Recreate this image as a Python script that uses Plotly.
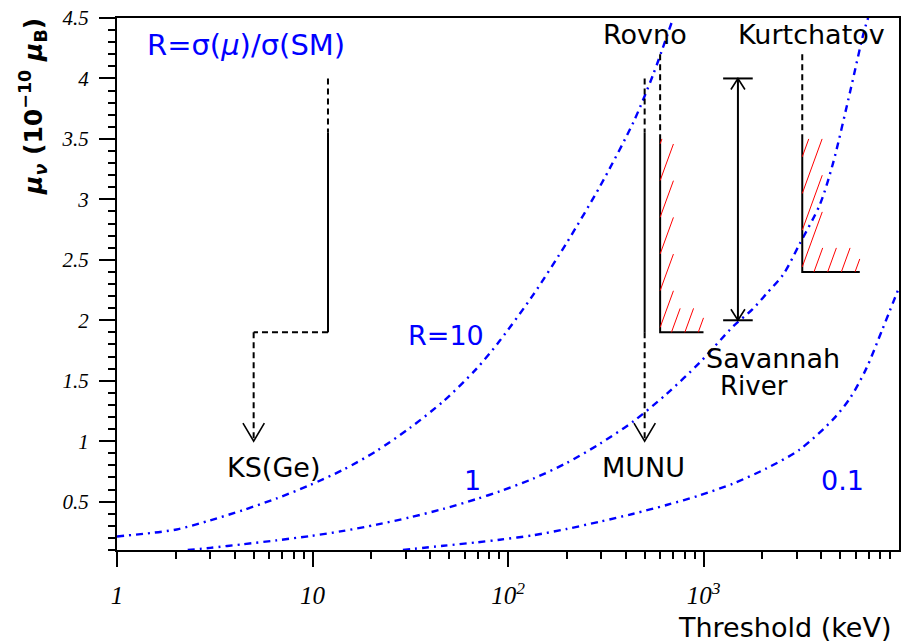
import numpy as np
import plotly.graph_objects as go

# ---------------- data ----------------
# iso-R curves: threshold T (keV) vs magnetic moment (1e-10 mu_B)
r10_T = [1, 2.02, 2.99, 4.42, 6.56, 9.7, 14.4, 21.3, 31.5, 46.7, 69.1, 90.7, 134.5, 199.5, 296, 438.5, 552, 700]
r10_mu = [0.212, 0.27, 0.345, 0.43, 0.527, 0.637, 0.765, 0.92, 1.11, 1.33, 1.6, 1.83, 2.21, 2.64, 3.11, 3.64, 4.03, 4.5]

r1_T = [2.3, 3, 4.42, 6.56, 9.7, 14.4, 21.3, 31.5, 46.7, 69.1, 90.7, 134.5, 199.5, 296, 438.5, 647, 956, 1420, 1778, 2100, 2560, 3100, 3945, 4600, 5640, 6600, 6950]
r1_mu = [0.1, 0.118, 0.148, 0.18, 0.215, 0.258, 0.31, 0.37, 0.44, 0.522, 0.585, 0.69, 0.82, 0.98, 1.165, 1.39, 1.65, 1.95, 2.09, 2.22, 2.38, 2.63, 2.96, 3.3, 3.9, 4.38, 4.5]

r01_T = [29, 46.7, 69.1, 90.7, 134.5, 199.5, 296, 438.5, 647, 956, 1420, 2100, 3100, 4600, 5640, 6800, 8200, 10000]
r01_mu = [0.1, 0.135, 0.163, 0.185, 0.222, 0.274, 0.335, 0.40, 0.472, 0.552, 0.65, 0.775, 0.93, 1.18, 1.36, 1.6, 1.92, 2.27]

# experiments: [threshold, dashed top, solid top, solid bottom]
ks_limit = [12, 4.0, 3.55, 1.9]
ks_arrow = [5, 1.0]            # projected threshold, arrow tip
munu_limit = [500, 4.0, 3.55, 1.9]
munu_arrow = [500, 1.0]
rovno_limit = [600, 4.2, 3.5, 1.9]
rovno_end = 1000
kurt_limit = [3200, 4.2, 3.5, 2.4]
kurt_end = 6300
savannah = [1500, 2.0, 4.0]    # threshold, lower, upper

# axes
x_tickvals = [1, 10, 100, 1000]
x_ticktext = ["1", "10", "10<sup>2</sup>", "10<sup>3</sup>"]
y_tickvals = [0.5, 1, 1.5, 2, 2.5, 3, 3.5, 4, 4.5]
y_ticktext = ["0.5", "1", "1.5", "2", "2.5", "3", "3.5", "4", "4.5"]

# ---------------- layout geometry ----------------
W, H = 901, 642
ML, MR, MT, MB = 117, 2, 18, 92
XR = [0, 4]          # log10 range
YR = [0.1, 4.5]
PW, PH = W - ML - MR, H - MT - MB
PX_DEC = PW / (XR[1] - XR[0])
PX_UNIT = PH / (YR[1] - YR[0])


def off(x, y, dxp, dyp):
    """shift a data point by a pixel offset (dyp positive = up)"""
    return 10 ** (np.log10(x) + dxp / PX_DEC), y + dyp / PX_UNIT


fig = go.Figure()
BLUE = "#0000ff"


def line(xs, ys, color="black", width=2, dash="solid"):
    fig.add_trace(go.Scatter(x=xs, y=ys, mode="lines", showlegend=False, hoverinfo="skip",
                             line=dict(color=color, width=width, dash=dash)))


DASH = "6px,4px"

# iso-R curves
for T, mu in [(r10_T, r10_mu), (r1_T, r1_mu), (r01_T, r01_mu)]:
    fig.add_trace(go.Scatter(x=T, y=mu, mode="lines", showlegend=False, hoverinfo="skip",
                             line=dict(color=BLUE, width=2.4, dash="7px,5px,2px,5px",
                                       shape="spline", smoothing=0.8)))


def varrow(x, tip, w=10.7, h=18):
    lx, ly = off(x, tip, -w, h)
    rx, ry = off(x, tip, w, h)
    line([lx, x, rx], [ly, tip, ry], width=1.6)


def uparrow(x, tip, w=7, h=11):
    lx, ly = off(x, tip, -w, -h)
    rx, ry = off(x, tip, w, -h)
    line([lx, x, rx], [ly, tip, ry], width=1.6)


# KS(Ge)
x0, top, stop, sbot = ks_limit
line([x0, x0], [top, stop], dash=DASH)
line([x0, x0], [stop, sbot])
line([x0, ks_arrow[0]], [sbot, sbot], dash=DASH)
line([ks_arrow[0], ks_arrow[0]], [sbot, ks_arrow[1]], dash=DASH)
varrow(ks_arrow[0], ks_arrow[1])

# MUNU
x0, top, stop, sbot = munu_limit
line([x0, x0], [top, stop], dash=DASH)
line([x0, x0], [stop, sbot])
line([munu_arrow[0], munu_arrow[0]], [sbot, munu_arrow[1]], dash=DASH)
varrow(munu_arrow[0], munu_arrow[1])


# hatched limits (Rovno, Kurtchatov)
def hatched(limit, xend, vband, hband=24, slope=2.75, vstep=36.7, hstep=13.4, v0=5, h0=11.3):
    x0, top, stop, sbot = limit
    line([x0, x0], [top, stop], dash=DASH)
    line([x0, x0, xend], [stop, sbot, sbot])
    hx, hy = [], []
    total_h = (stop - sbot) * PX_UNIT
    s = v0
    while s < total_h:
        dy = vband * slope
        dx = vband
        if s + dy > total_h:
            dy = total_h - s
            dx = dy / slope
        ax, ay = off(x0, sbot, 0, s)
        bx, by = off(x0, sbot, dx, s + dy)
        hx += [ax, bx, None]
        hy += [ay, by, None]
        s += vstep
    total_w = (np.log10(xend) - np.log10(x0)) * PX_DEC
    s = h0
    while s < total_w:
        dx = hband / slope
        dy = hband
        if s + dx > total_w:
            dx = total_w - s
            dy = dx * slope
        ax, ay = off(x0, sbot, s, 0)
        bx, by = off(x0, sbot, s + dx, dy)
        hx += [ax, bx, None]
        hy += [ay, by, None]
        s += hstep
    line(hx, hy, color="red", width=1)


hatched(rovno_limit, rovno_end, vband=13.3)
hatched(kurt_limit, kurt_end, vband=20, h0=11.7, hstep=13.7)

# Savannah River double arrow
sx, slo, shi = savannah
line([sx, sx], [slo, shi])
for yv in (slo, shi):
    ax, _ = off(sx, yv, -14.8, 0)
    bx, _ = off(sx, yv, 14.8, 0)
    line([ax, bx], [yv, yv])
uparrow(sx, shi)
uparrow(sx, slo, h=-11)

# ---------------- texts ----------------
TF = dict(family="DejaVu Sans", size=27, color="black")
BF = dict(family="DejaVu Sans", size=27, color=BLUE)
BF2 = dict(family="DejaVu Sans", size=29, color=BLUE)
labels = [
    ("R=σ(<i>μ</i>)/σ(SM)", 246, 45, BF2),
    ("R=10", 446, 335, BF),
    ("1", 472, 480, BF),
    ("0.1", 842, 480, BF),
    ("KS(Ge)", 273, 467, TF),
    ("MUNU", 643, 467, TF),
    ("Rovno", 645, 34, TF),
    ("Kurtchatov", 811, 34, TF),
    ("Savannah", 773, 358, TF),
    ("River", 754, 386, dict(TF, size=26)),
]
ann = []
for txt, px, py, f in labels:
    ann.append(dict(text=txt, x=(px - ML) / PW, y=(MT + PH - py) / PH, xref="paper", yref="paper",
                    xanchor="center", yanchor="middle", showarrow=False, font=f))

ann.append(dict(text="Threshold (keV)", x=(893 - ML) / PW, y=(MT + PH - 627) / PH, xref="paper", yref="paper",
                xanchor="right", yanchor="middle", showarrow=False,
                font=dict(family="DejaVu Sans", size=27, color="black")))
ann.append(dict(text="<i>μ</i><sub><i>ν</i></sub> (10<sup>−10</sup> <i>μ</i><sub>B</sub>)",
                x=(33 - ML) / PW, y=(MT + PH - 107) / PH, xref="paper", yref="paper",
                xanchor="center", yanchor="middle", showarrow=False, textangle=-90,
                font=dict(family="DejaVu Sans", size=25, color="black", weight="bold")))

minor_x = [m * 10 ** d for d in range(0, 4) for m in range(2, 10)]

fig.update_layout(
    width=W, height=H, margin=dict(l=ML, r=MR, t=MT, b=MB, autoexpand=False),
    plot_bgcolor="white", paper_bgcolor="white",
    annotations=ann, showlegend=False,
    xaxis=dict(type="log", range=XR, showgrid=False, zeroline=False,
               showline=True, linewidth=2, linecolor="black", mirror=True,
               ticks="outside", ticklen=15, tickwidth=2, tickcolor="black",
               tickmode="array", tickvals=x_tickvals, ticktext=x_ticktext,
               tickfont=dict(family="Liberation Serif", size=25, color="black", style="italic"),
               ticklabelstandoff=7,
               minor=dict(ticks="outside", ticklen=7, tickwidth=2, tickcolor="black",
                          tickmode="array", tickvals=minor_x, showgrid=False)),
    yaxis=dict(range=YR, showgrid=False, zeroline=False,
               showline=True, linewidth=2, linecolor="black", mirror=True,
               ticks="outside", ticklen=16, tickwidth=2, tickcolor="black",
               tickmode="array", tickvals=y_tickvals, ticktext=y_ticktext,
               tickfont=dict(family="Liberation Serif", size=21, color="black", style="italic"),
               ticklabelstandoff=6,
               minor=dict(ticks="outside", ticklen=7, tickwidth=2, tickcolor="black",
                          dtick=0.1, tick0=0, showgrid=False)),
)

fig.write_html("out.html", config={"displayModeBar": False},
               post_script="document.body.style.margin='0px';")
